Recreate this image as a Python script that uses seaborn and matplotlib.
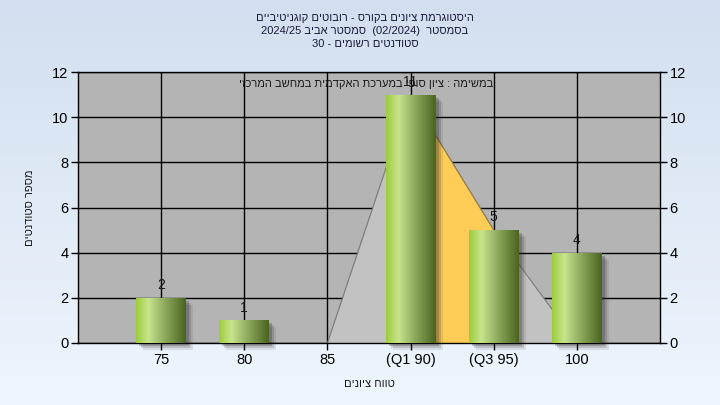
import re
import numpy as np
import matplotlib
matplotlib.use('Agg')
import matplotlib.pyplot as plt
import matplotlib.transforms as mtransforms
from matplotlib.colors import LinearSegmentedColormap
from matplotlib.patches import Rectangle
import seaborn as sns

# data
categories = ['75', '80', '85', '(Q1 90)', '(Q3 95)', '100']
counts = [2, 1, 0, 11, 5, 4]
curve_values = [None, None, 0, 11, 5, 0]   # grey frequency polygon behind bars
q_span = ['(Q1 90)', '(Q3 95)']            # orange band between Q1 and Q3

title_lines = [
    'היסטוגרמת ציונים בקורס - רובוטים קוגניטיביים',
    'בסמסטר  (02/2024)  סמסטר אביב 2024/25',
    'סטודנטים רשומים - 30',
]
note = 'במשימה : ציון סופי במערכת האקדמית במחשב המרכזי'
x_label = 'טווח ציונים'
y_label = 'מספר סטודנטים'


def rtl(s):
    # matplotlib lays text out left to right, so flip Hebrew to visual order
    rev = s[::-1]
    rev = re.sub(r'[0-9A-Za-z][0-9A-Za-z/.]*[0-9A-Za-z]|[0-9A-Za-z]',
                 lambda m: m.group(0)[::-1], rev)
    return rev.translate(str.maketrans('()', ')('))


sns.set_theme(style='white')
plt.rcParams['font.family'] = ['Liberation Sans', 'DejaVu Sans']

fig = plt.figure(figsize=(7.2, 4.05), dpi=100)

# light blue gradient background
bg = fig.add_axes([0, 0, 1, 1], zorder=-10)
bg_cmap = LinearSegmentedColormap.from_list('bg', ['#d3dff0', '#eef6fd'])
bg.imshow(np.linspace(0, 1, 256).reshape(-1, 1), aspect='auto', cmap=bg_cmap,
          extent=[0, 1, 0, 1])
bg.axis('off')

ax = fig.add_axes([78 / 720, 1 - 343 / 405, (660 - 78) / 720, (343 - 72) / 405])
ax.set_facecolor('#b4b4b4')

sns.barplot(x=categories, y=counts, order=categories, width=0.6,
            color='#9acd32', ax=ax, zorder=3)

pos = {c: i for i, c in enumerate(categories)}

# frequency polygon + orange Q1-Q3 band
cx = [pos[c] for c, v in zip(categories, curve_values) if v is not None]
cy = [v for v in curve_values if v is not None]
ax.fill_between(cx, cy, 0, color='#c2c2c2', zorder=1.5, linewidth=0)
ax.plot(cx, cy, color='#7a7a7a', linewidth=0.8, zorder=1.6)
qx = [pos[q_span[0]], pos[q_span[1]]]
qy = [curve_values[pos[q_span[0]]], curve_values[pos[q_span[1]]]]
ax.fill_between(qx, qy, 0, color='#ffcc55', zorder=1.7, linewidth=0)
ax.plot(qx, qy, color='#8a7a50', linewidth=0.8, zorder=1.8)

# cylinder-like gradient bars with soft shadow
bar_cmap = LinearSegmentedColormap.from_list(
    'bar', [(0, '#9ccc3a'), (0.25, '#c8e48e'), (0.6, '#8aa65a'), (1, '#4a6420')])
grad = np.linspace(0, 1, 256).reshape(1, -1)
for p in list(ax.patches):
    h = p.get_height()
    if h <= 0:
        p.set_visible(False)
        continue
    x0, w = p.get_x(), p.get_width()
    for k, a in [(7, 0.10), (5, 0.16), (3, 0.25)]:
        off = mtransforms.ScaledTranslation(k / 100, -k / 100, fig.dpi_scale_trans)
        sh = Rectangle((x0, 0), w, h, facecolor='#282828', alpha=a, linewidth=0,
                       transform=ax.transData + off, zorder=2.5, clip_on=False)
        ax.add_patch(sh)
    p.set_facecolor('none')
    p.set_edgecolor('none')
    im = ax.imshow(grad, cmap=bar_cmap, aspect='auto', extent=[x0, x0 + w, 0, h],
                   zorder=3)
    im.set_clip_path(p)
    ax.text(x0 + w / 2, h + 0.25, str(int(h)),
            ha='center', va='bottom', fontsize=10, color='#1a1a1a', zorder=5)

ax.set_xlim(-1, 6)
ax.set_ylim(0, 12)
ax.set_yticks(range(0, 13, 2))
ax.set_xticks(range(len(categories)))
ax.set_xticklabels(categories)
ax.grid(True, color='black', linewidth=1, zorder=0)
ax.set_axisbelow(True)
for s in ax.spines.values():
    s.set_color('black')
    s.set_linewidth(1)
ax.tick_params(axis='both', which='both', direction='out', length=5, width=1,
               color='black', labelsize=10.5, labelcolor='black',
               bottom=True, left=True, right=True, labelright=True, pad=2)

ax.set_xlabel(rtl(x_label), fontsize=8, color='#1a1a1a', labelpad=9)
ax.set_ylabel(rtl(y_label), fontsize=8, color='#1a1a1a', labelpad=12)

ax.text(0.5 - 3 / 582, 0.955, rtl(note), transform=ax.transAxes, ha='center',
        va='center', fontsize=8, color='#1a1a1a', zorder=6)

for i, line in enumerate(title_lines):
    fig.text(365 / 720, 1 - (18 + 13 * i) / 405, rtl(line), ha='center', va='center',
             fontsize=8, color='#1a1a3a')

fig.savefig('out.png', dpi=100)
